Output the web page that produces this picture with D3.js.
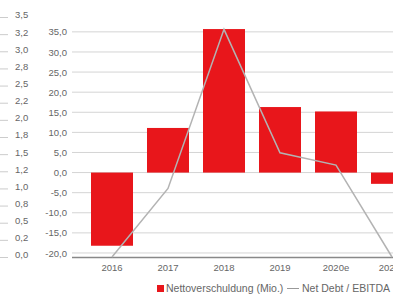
<!DOCTYPE html>
<html>
<head>
<meta charset="utf-8">
<script src="https://cdn.jsdelivr.net/npm/d3@7"></script>
<style>
  body { margin: 0; background: #fff; }
  svg text { font-family: "Liberation Sans", Arial, sans-serif; fill: #666; }
</style>
</head>
<body>
<svg id="chart"></svg>
<script>
const categories = ['2016', '2017', '2018', '2019', '2020e', '2021e'];
const netDebt = [-18.2, 11.1, 35.7, 16.3, 15.2, -2.8];       // Mio.
const debtRatio = [0.0, 1.0, 3.32, 1.52, 1.34, 0.0];          // Net Debt / EBITDA
const barTicks = [35, 30, 25, 20, 15, 10, 5, 0, -5, -10, -15, -20];
const ratioTicks = [3.5, 3.25, 3.0, 2.75, 2.5, 2.25, 2.0, 1.75, 1.5, 1.25, 1.0, 0.75, 0.5, 0.25, 0.0];
const ratioLabels = ['3,5', '3,2', '3,0', '2,8', '2,5', '2,2', '2,0', '1,8', '1,5', '1,2', '1,0', '0,8', '0,5', '0,2', '0,0'];

const width = 393, height = 296;
const svg = d3.select('#chart').attr('width', width).attr('height', height);

// scales
const x = d3.scaleBand().domain(categories).range([84, 420]).paddingInner(0.25).paddingOuter(0.125);
const yBar = d3.scaleLinear().domain([-21, 38.7]).range([257, 17]);
const yRatio = d3.scaleLinear().domain([0, 3.5]).range([257, 17]);

// gridlines
svg.append('g')
  .selectAll('line')
  .data(barTicks)
  .join('line')
  .attr('x1', 72).attr('x2', width)
  .attr('y1', d => yBar(d)).attr('y2', d => yBar(d))
  .attr('stroke', '#d4d4d4').attr('stroke-width', 1);

// bar axis labels
const fmt = d => d3.format('.1f')(d).replace('.', ',').replace('−', '-');
svg.append('g')
  .attr('transform', 'translate(67,0)')
  .call(d3.axisLeft(yBar).tickValues(barTicks).tickFormat(fmt).tickSize(0).tickPadding(0))
  .call(g => g.select('.domain').remove())
  .call(g => g.selectAll('text').attr('font-size', 9.5).attr('fill', '#666').attr('font-family', null));

// ratio axis (left)
const ratioAxis = svg.append('g')
  .attr('transform', 'translate(8,0)')
  .call(d3.axisLeft(yRatio).tickValues(ratioTicks).tickSize(8).tickFormat((d, i) => ratioLabels[i]))
  .call(g => g.select('.domain').remove());
ratioAxis.selectAll('line').attr('stroke', '#ccc');
ratioAxis.selectAll('text')
  .attr('text-anchor', 'start').attr('x', 7).attr('dy', '0.1em')
  .attr('font-size', 9.5).attr('fill', '#666').attr('font-family', null);

// bars
svg.append('g')
  .selectAll('rect')
  .data(categories)
  .join('rect')
  .attr('x', d => x(d))
  .attr('width', x.bandwidth())
  .attr('y', (d, i) => yBar(Math.max(0, netDebt[i])))
  .attr('height', (d, i) => Math.abs(yBar(netDebt[i]) - yBar(0)))
  .attr('fill', '#e8161b');

// bottom axis line
svg.append('line')
  .attr('x1', 72).attr('x2', width)
  .attr('y1', 257.5).attr('y2', 257.5)
  .attr('stroke', '#888').attr('stroke-width', 1.5);

// ratio line
const line = d3.line()
  .x((d, i) => x(categories[i]) + x.bandwidth() / 2)
  .y(d => yRatio(d));
svg.append('path')
  .datum(debtRatio)
  .attr('d', line)
  .attr('fill', 'none')
  .attr('stroke', '#b3b3b3')
  .attr('stroke-width', 1.5);

// category labels
svg.append('g')
  .attr('transform', 'translate(0,262)')
  .call(d3.axisBottom(x).tickSize(0).tickPadding(0))
  .call(g => g.select('.domain').remove())
  .call(g => g.selectAll('text').attr('dy', '0.9em').attr('font-size', 9.5).attr('fill', '#555').attr('font-family', null));

// legend
const legend = svg.append('g').attr('transform', 'translate(157,292)');
legend.append('rect').attr('x', 0).attr('y', -7).attr('width', 7).attr('height', 7).attr('fill', '#e8161b');
legend.append('text').attr('x', 9).attr('y', 0).attr('font-size', 10.5).attr('fill', '#555').text('Nettoverschuldung (Mio.)');
legend.append('line').attr('x1', 130).attr('x2', 142).attr('y1', -3.5).attr('y2', -3.5).attr('stroke', '#999').attr('stroke-width', 1);
legend.append('text').attr('x', 145).attr('y', 0).attr('font-size', 10.5).attr('fill', '#555').text('Net Debt / EBITDA');
</script>
</body>
</html>
